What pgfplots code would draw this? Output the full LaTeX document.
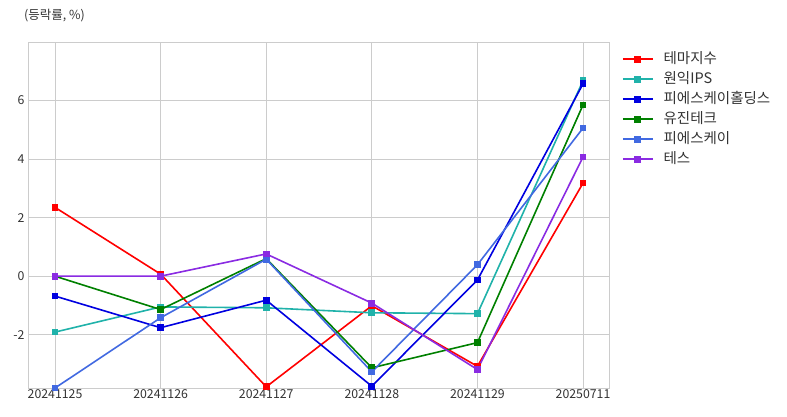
\documentclass[border=0pt]{standalone}
\usepackage{pgfplots}
\pgfplotsset{compat=1.18}
\usepackage{fontspec}
\setmainfont{Noto Sans CJK KR}
\definecolor{cA}{HTML}{FF0000}
\definecolor{cB}{HTML}{20B2AA}
\definecolor{cC}{HTML}{0000E0}
\definecolor{cD}{HTML}{008000}
\definecolor{cE}{HTML}{4169E1}
\definecolor{cF}{HTML}{8A2BE2}
\definecolor{gridc}{HTML}{CCCCCC}
\definecolor{textc}{HTML}{333333}
\begin{document}
\begin{tikzpicture}
\useasboundingbox (0,0) rectangle (787pt,416pt);
\node[anchor=west, font=\fontsize{12.5}{14}\selectfont, text=textc, inner sep=0pt] at (24pt,400pt) {(등락률, \%)};
\begin{axis}[
  at={(28pt,28pt)}, anchor=south west,
  scale only axis, width=581pt, height=346pt,
  xmin=-0.256, xmax=5.246, ymin=-3.82, ymax=8.0,
  xtick={0,1,2,3,4,5},
  xticklabels={20241125,20241126,20241127,20241128,20241129,20250711},
  ytick={-2,0,2,4,6},
  /pgf/number format/assume math mode=true,
  tick style={draw=none},
  grid=major, grid style={gridc, line width=0.8pt},
  axis line style={gridc, line width=0.8pt},
  tick label style={font=\fontsize{12.3}{14}\selectfont, text=textc},
  xticklabel style={yshift=2pt},
  yticklabel style={xshift=0pt},
  every axis plot/.append style={line width=1.6pt, mark=square*, mark size=2.6pt},
  legend style={at={(1.022,0.971)}, anchor=north west, draw=none, fill=none,
    font=\fontsize{14.5}{16}\selectfont, text=textc, row sep=6pt,
    inner sep=0pt,
    nodes={inner sep=0pt, text height=11pt, text depth=3pt},
    /tikz/every odd column/.append style={column sep=10pt}},
  legend cell align=left,
  legend image code/.code={
    \draw[#1, mark repeat=2, mark phase=2] plot coordinates {(0pt,0pt) (15pt,0pt) (30pt,0pt)};
  },
]
\addplot[cA, mark options={fill=cA}] coordinates {(0,2.35) (1,0.07) (2,-3.78) (3,-1.01) (4,-3.08) (5,3.18)};
\addlegendentry{테마지수}
\addplot[cB, mark options={fill=cB}] coordinates {(0,-1.91) (1,-1.05) (2,-1.08) (3,-1.25) (4,-1.28) (5,6.68)};
\addlegendentry{원익IPS}
\addplot[cC, mark options={fill=cC}] coordinates {(0,-0.68) (1,-1.76) (2,-0.82) (3,-3.76) (4,-0.13) (5,6.57)};
\addlegendentry{피에스케이홀딩스}
\addplot[cD, mark options={fill=cD}] coordinates {(0,0.0) (1,-1.14) (2,0.6) (3,-3.13) (4,-2.27) (5,5.85)};
\addlegendentry{유진테크}
\addplot[cE, mark options={fill=cE}] coordinates {(0,-3.82) (1,-1.42) (2,0.58) (3,-3.27) (4,0.39) (5,5.06)};
\addlegendentry{피에스케이}
\addplot[cF, mark options={fill=cF}] coordinates {(0,0.0) (1,0.0) (2,0.76) (3,-0.92) (4,-3.19) (5,4.07)};
\addlegendentry{테스}
\end{axis}
\end{tikzpicture}
\end{document}
